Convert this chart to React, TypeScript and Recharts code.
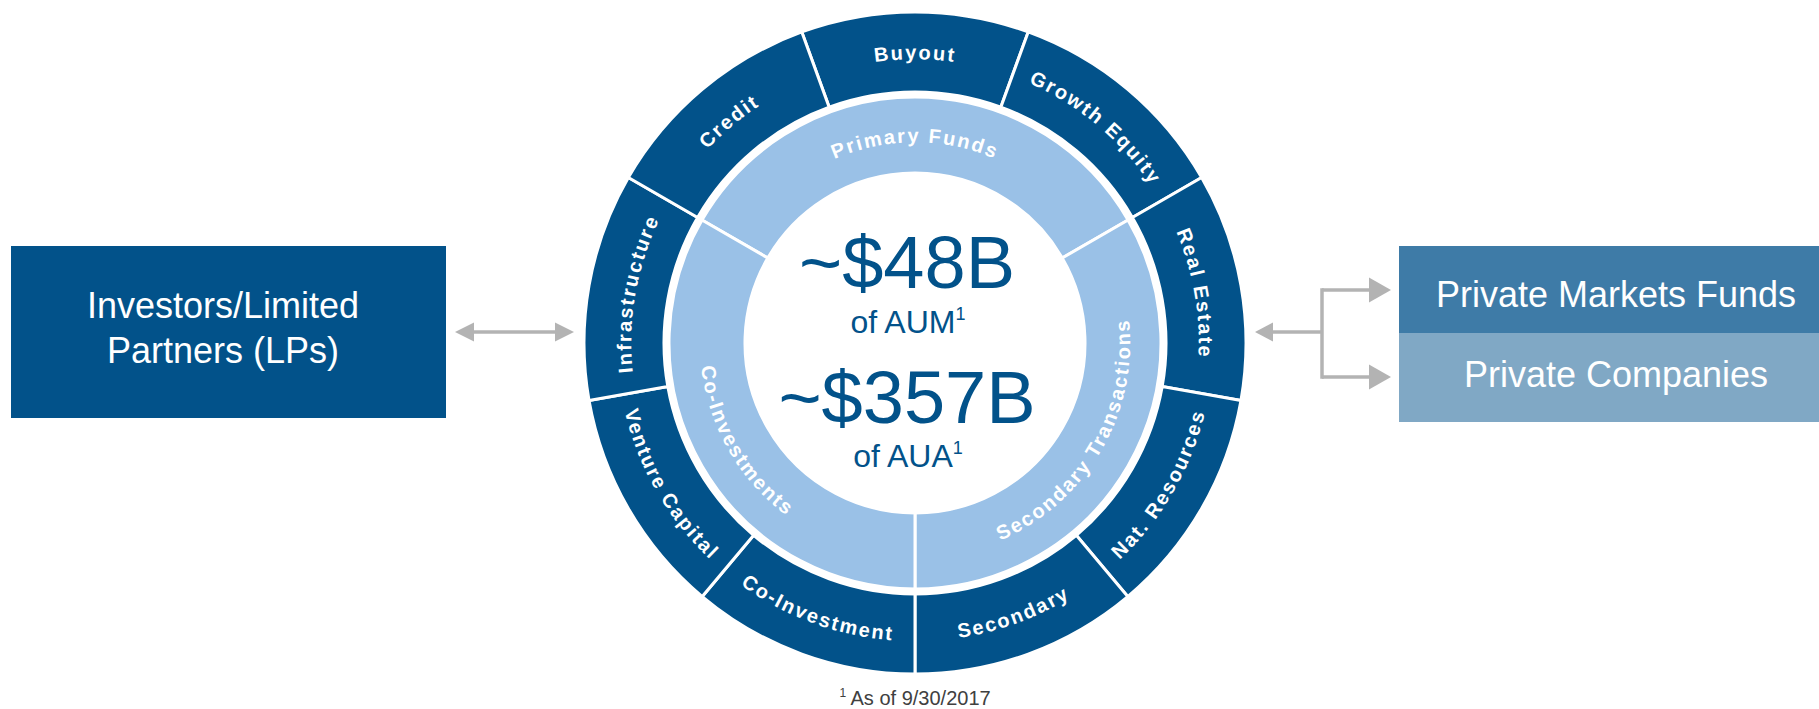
import React from "react";
import { PieChart, Pie, Customized } from "recharts";

// outer ring: strategies, clockwise from the top
const strategyNames = [
  "Buyout",
  "Growth Equity",
  "Real Estate",
  "Nat. Resources",
  "Secondary",
  "Co-Investment",
  "Venture Capital",
  "Infrastructure",
  "Credit",
];
const strategyShares = [1, 1, 1, 1, 1, 1, 1, 1, 1];

// inner ring: ways of investing
const programNames = ["Primary Funds", "Secondary Transactions", "Co-Investments"];
const programShares = [1, 1, 1];

const headlineValues = ["~$48B", "~$357B"];
const headlineUnits = ["of AUM", "of AUA"];
const investorLines = ["Investors/Limited", "Partners (LPs)"];
const targetLabels = ["Private Markets Funds", "Private Companies"];
const footnote = "As of 9/30/2017";

const W = 1819;
const H = 709;
const CX = 915;
const CY = 343;
const DARK = "#02528a";
const LIGHT = "#9ac1e7";
const GREY = "#b3b3b3";
const FONT = "Arial, 'Liberation Sans', Helvetica, sans-serif";

const strategyData = strategyNames.map((name, i) => ({ name, value: strategyShares[i] }));
const programData = programNames.map((name, i) => ({ name, value: programShares[i] }));

const RAD = Math.PI / 180;

const arcPath = (cx: number, cy: number, r: number, a1: number, a2: number, sweep: number) => {
  const x1 = cx + r * Math.cos(a1 * RAD);
  const y1 = cy - r * Math.sin(a1 * RAD);
  const x2 = cx + r * Math.cos(a2 * RAD);
  const y2 = cy - r * Math.sin(a2 * RAD);
  return `M ${x1} ${y1} A ${r} ${r} 0 0 ${sweep} ${x2} ${y2}`;
};

// curved label following the ring; bottom half reads with letter tops toward the centre
const makeArcLabel = (prefix: string, span: number, fontSize: number) => (props: any) => {
  const { cx, cy, midAngle, innerRadius, outerRadius, index, name } = props;
  const mid = (innerRadius + outerRadius) / 2;
  const a = ((midAngle % 360) + 360) % 360;
  const inward = a > 180 && a < 360;
  const half = fontSize * 0.36;
  const r = inward ? mid + half : mid - half;
  const d = inward
    ? arcPath(cx, cy, r, midAngle - span, midAngle + span, 0)
    : arcPath(cx, cy, r, midAngle + span, midAngle - span, 1);
  const id = `${prefix}-${index}`;
  return (
    <g key={id}>
      <defs>
        <path id={id} d={d} />
      </defs>
      <text
        fill="#fff"
        fontFamily={FONT}
        fontWeight="bold"
        fontSize={fontSize}
        letterSpacing={2}
      >
        <textPath href={`#${id}`} startOffset="50%" textAnchor="middle">
          {name}
        </textPath>
      </text>
    </g>
  );
};

const Overlay = () => (
  <g fontFamily={FONT}>
    {/* investors box */}
    <rect x={11} y={246} width={435} height={172} fill={DARK} />
    {investorLines.map((t, i) => (
      <text key={t} x={223} y={318 + i * 45} fill="#fff" fontSize={36} textAnchor="middle">
        {t}
      </text>
    ))}

    {/* double arrow left */}
    <line x1={470} y1={332} x2={560} y2={332} stroke={GREY} strokeWidth={3.5} />
    <polygon points="455,332 474,322.5 474,341.5" fill={GREY} />
    <polygon points="574,332 555,322.5 555,341.5" fill={GREY} />

    {/* branching arrow right */}
    <polygon points="1255,332 1273,322.5 1273,341.5" fill={GREY} />
    <line x1={1270} y1={332} x2={1322} y2={332} stroke={GREY} strokeWidth={3.5} />
    <line x1={1322} y1={288.25} x2={1322} y2={378.75} stroke={GREY} strokeWidth={3.5} />
    <line x1={1322} y1={290} x2={1372} y2={290} stroke={GREY} strokeWidth={3.5} />
    <line x1={1322} y1={377} x2={1372} y2={377} stroke={GREY} strokeWidth={3.5} />
    <polygon points="1391,290 1369,277.5 1369,302.5" fill={GREY} />
    <polygon points="1391,377 1369,364.5 1369,389.5" fill={GREY} />

    {/* target boxes */}
    <rect x={1399} y={246} width={420} height={87} fill="#3e7ba7" />
    <rect x={1399} y={333} width={420} height={89} fill="#80a8c5" />
    {targetLabels.map((t, i) => (
      <text key={t} x={1616} y={307 + i * 80} fill="#fff" fontSize={36} textAnchor="middle">
        {t}
      </text>
    ))}

    {/* centre figures */}
    {headlineValues.map((v, i) => (
      <g key={v}>
        <text x={907} y={288 + i * 135} fill={DARK} fontSize={74} textAnchor="middle">
          {v}
        </text>
        <text x={908} y={333 + i * 134} fill={DARK} fontSize={32} textAnchor="middle">
          {headlineUnits[i]}
          <tspan fontSize={18} dy={-13}>1</tspan>
        </text>
      </g>
    ))}

    {/* footnote */}
    <text x={915} y={705} fill="#404040" fontSize={20} textAnchor="middle">
      <tspan fontSize={12} dy={-8}>1</tspan>
      <tspan dy={8}> {footnote}</tspan>
    </text>
  </g>
);

export default function App() {
  return (
    <div style={{ position: "absolute", left: 0, top: 0, width: W, height: H, background: "#fff" }}>
      <PieChart width={W} height={H} margin={{ top: 0, right: 0, bottom: 0, left: 0 }}>
        <Pie
          data={strategyData}
          dataKey="value"
          nameKey="name"
          cx={CX}
          cy={CY}
          innerRadius={251}
          outerRadius={331}
          startAngle={110}
          endAngle={-250}
          fill={DARK}
          stroke="#fff"
          strokeWidth={3}
          label={makeArcLabel("strategy-arc", 45, 20)}
          labelLine={false}
          isAnimationActive={false}
        />
        <Pie
          data={programData}
          dataKey="value"
          nameKey="name"
          cx={CX}
          cy={CY}
          innerRadius={170}
          outerRadius={246}
          startAngle={150}
          endAngle={-210}
          fill={LIGHT}
          stroke="#fff"
          strokeWidth={3}
          label={makeArcLabel("program-arc", 70, 20)}
          labelLine={false}
          isAnimationActive={false}
        />
        <Customized component={Overlay} />
      </PieChart>
    </div>
  );
}
